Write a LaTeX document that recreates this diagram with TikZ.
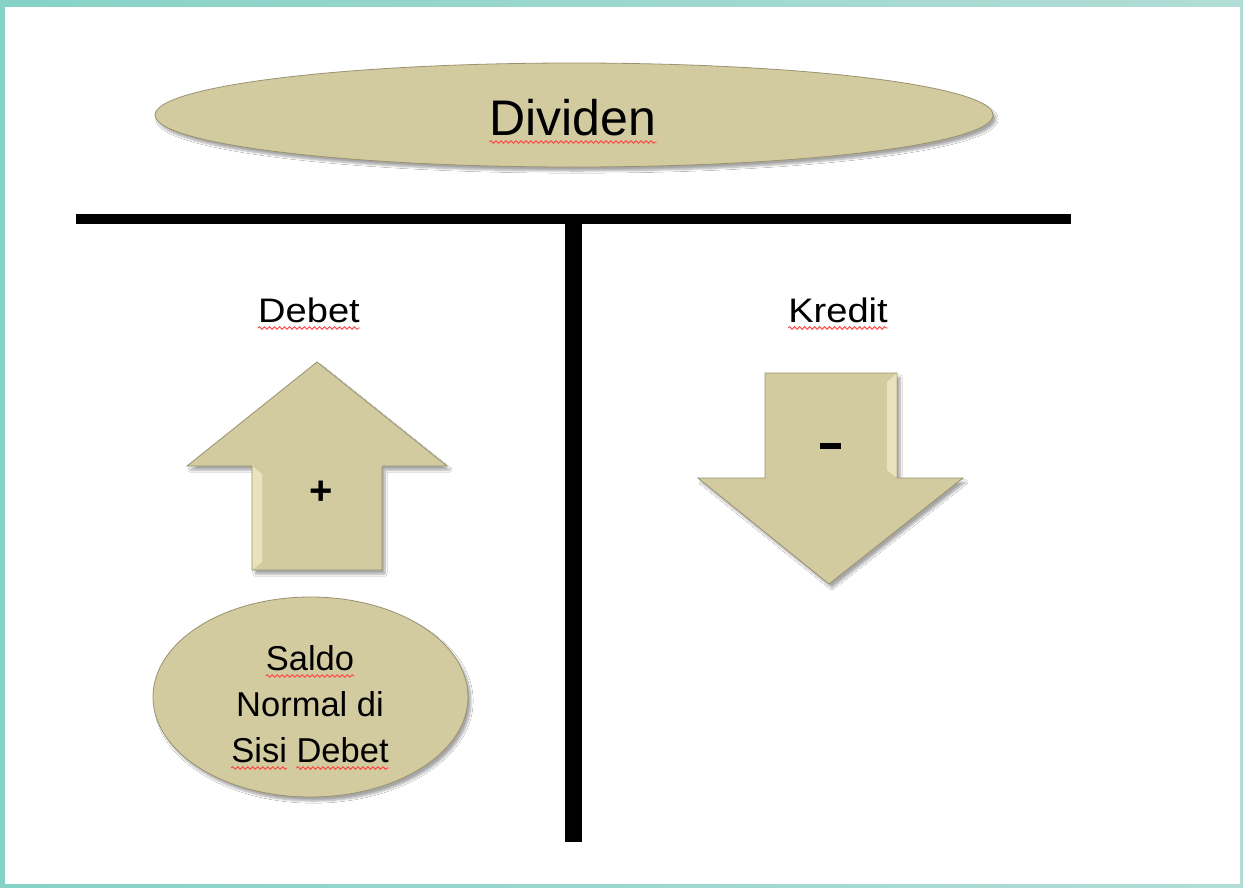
\documentclass[tikz,border=0pt]{standalone}
\usepackage{fontspec}
\setmainfont{Liberation Sans}
\usetikzlibrary{shapes.geometric,shadows.blur,decorations.pathmorphing}
\definecolor{tealA}{HTML}{B2DDD7}
\definecolor{tealB}{HTML}{86D2C6}
\definecolor{tan}{HTML}{D3CBA0}
\definecolor{tanlight}{HTML}{E9E2BC}
\definecolor{tanedge}{HTML}{9A9270}
\begin{document}
\begin{tikzpicture}[x=1pt,y=-1pt,
  shape3d/.style={fill=tan, draw=tanedge, line width=0.8pt,
    blur shadow={shadow xshift=3pt, shadow yshift=-4pt, shadow blur steps=8, shadow opacity=35}},
  bevel/.style={fill=tanlight},
  txt/.style={inner sep=0pt, text=black},
  wavy/.style={draw=red!75!white, line width=0.9pt, decorate,
    decoration={snake, segment length=5pt, amplitude=1.3pt}},
  bar/.style={line width=#1, black}
]
\useasboundingbox (0,0) rectangle (1243,887);
% frame
\fill[left color=tealB, right color=tealA] (0,0) rectangle (1243,887);
\fill[white] (5,7) rectangle (1240,884);

% title ellipse
\node[shape3d, ellipse, minimum width=838pt, minimum height=104pt, inner sep=0pt] (title) at (574,115) {};
\node[txt, font=\fontsize{50}{56}\selectfont, anchor=base] (dividen) at (573,135) {Dividen};
\draw[wavy] ([yshift=-7pt]dividen.base west) -- ([yshift=-7pt]dividen.base east);

% T account lines
\coordinate (hl) at (76,218.5);
\coordinate (hr) at (1071,218.5);
\coordinate (vt) at (573.5,214);
\coordinate (vb) at (573.5,842);
\draw[bar=10pt] (hl) -- (hr);
\draw[bar=17pt] (vt) -- (vb);

% headings
\node[txt, font=\fontsize{34}{40}\selectfont, anchor=base] (debet) at (309,322) {\scalebox{1.12}[1]{Debet}};
\draw[wavy] ([yshift=-6pt]debet.base west) -- ([yshift=-6pt]debet.base east);
\node[txt, font=\fontsize{34}{40}\selectfont, anchor=base] (kredit) at (838,322) {\scalebox{1.12}[1]{Kredit}};
\draw[wavy] ([yshift=-6pt]kredit.base west) -- ([yshift=-6pt]kredit.base east);

% up arrow
\draw[shape3d] (317,362) -- (447,466) -- (382,466) -- (382,570) -- (252,570) -- (252,466) -- (187,466) -- cycle;
\fill[bevel] (252.5,466) -- (262,474) -- (262,562) -- (252.5,569.5) -- cycle;
\node[txt, font=\bfseries\fontsize{40}{44}\selectfont] (plus) at (321,493) {+};

% down arrow
\draw[shape3d] (765,373) -- (897,373) -- (897,478) -- (963,478) -- (829,584) -- (698,478) -- (765,478) -- cycle;
\fill[bevel] (896.5,373.5) -- (887,382) -- (887,470) -- (896.5,477.5) -- cycle;
\node[txt, fill=black, minimum width=21pt, minimum height=6.5pt] (minus) at (830,446) {};

% saldo ellipse
\node[shape3d, ellipse, minimum width=315pt, minimum height=200pt, inner sep=0pt] (saldo) at (310.5,697) {};
\node[txt, font=\fontsize{34.5}{40}\selectfont, anchor=base] (l1) at (310,670) {Saldo};
\draw[wavy] ([yshift=-6pt]l1.base west) -- ([yshift=-6pt]l1.base east);
\node[txt, font=\fontsize{34.5}{40}\selectfont, anchor=base] (l2) at (310,716) {Normal di};
\node[txt, font=\fontsize{34.5}{40}\selectfont, anchor=base] (l3) at (310,762) {\phantom{Sisi Debet}};
\node[txt, font=\fontsize{34.5}{40}\selectfont, anchor=base west] (sisi) at (l3.base west) {Sisi};
\node[txt, font=\fontsize{34.5}{40}\selectfont, anchor=base east] (sdebet) at (l3.base east) {Debet};
\draw[wavy] ([yshift=-6pt]sisi.base west) -- ([yshift=-6pt]sisi.base east);
\draw[wavy] ([yshift=-6pt]sdebet.base west) -- ([yshift=-6pt]sdebet.base east);
\end{tikzpicture}
\end{document}
